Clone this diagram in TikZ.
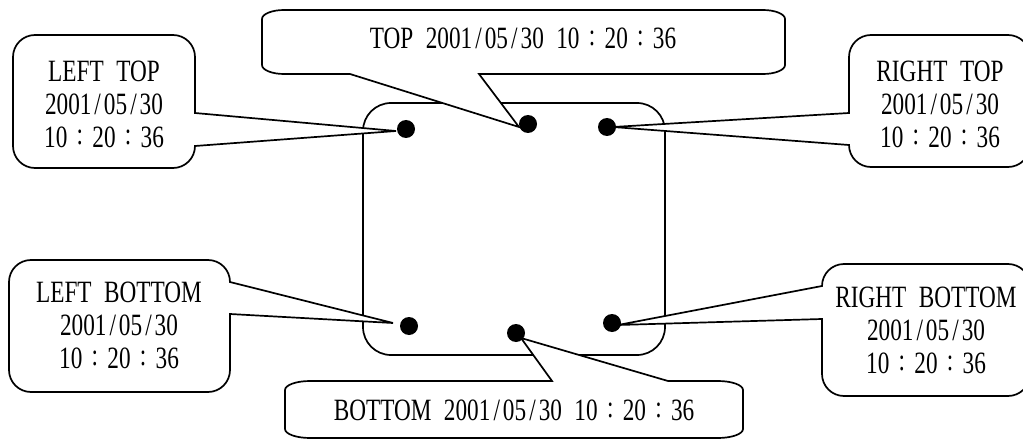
\documentclass[tikz,border=0pt]{standalone}
\usepackage{fontspec}
\setmainfont{Liberation Serif}[FakeStretch=0.75]
\newcommand\fwc{\makebox[25pt]{\raisebox{3pt}{:}}}
\newcommand\slsh{\makebox[12.5pt]{/}}
\newcommand\gap{\hspace{12.5pt}}
\newcommand\dte{2001\slsh 05\slsh 30}
\newcommand\tme{10\fwc 20\fwc 36}
\tikzset{
  callout/.style={draw=black, fill=white, line width=1.7pt, line join=miter},
  mainbox/.style={draw=black, line width=1.7pt, rounded corners=28pt, minimum width=302pt, minimum height=252pt, inner sep=0pt},
  dotnode/.style={circle, fill=black, draw=none, inner sep=0pt, minimum size=18pt},
  txt/.style={font=\fontsize{31}{33}\selectfont, align=center, inner sep=0pt}
}
\begin{document}
\begin{tikzpicture}[x=1pt,y=-1pt]
\useasboundingbox (0,0) rectangle (1023,441);
\clip (0,0) rectangle (1023,441);
% main device box
\node[mainbox] (dev) at (514,229) {};
% tips of callouts
\coordinate (tLT) at (396,131);
\coordinate (tT)  at (519,127);
\coordinate (tRT) at (613,127);
\coordinate (tLB) at (393,323);
\coordinate (tB)  at (521,338);
\coordinate (tRB) at (618,325);
% LEFT TOP callout
\draw[callout] (35,35) -- (173,35) arc[start angle=-90,end angle=0,radius=22]
  -- (195,113) -- (tLT) -- (195,146) arc[start angle=0,end angle=90,radius=22]
  -- (35,168) arc[start angle=90,end angle=180,radius=22]
  -- (13,57) arc[start angle=180,end angle=270,radius=22] -- cycle;
% TOP callout
\draw[callout] (284,10) -- (763,10) arc[start angle=-90,end angle=0,x radius=22,y radius=9]
  -- (785,65) arc[start angle=0,end angle=90,x radius=22,y radius=9]
  -- (479,74) -- (tT) -- (350,74) -- (284,74) arc[start angle=90,end angle=180,x radius=22,y radius=9]
  -- (262,19) arc[start angle=180,end angle=270,x radius=22,y radius=9] -- cycle;
% RIGHT TOP callout
\draw[callout] (871,35) -- (1008,35) arc[start angle=-90,end angle=0,radius=22]
  -- (1030,145) arc[start angle=0,end angle=90,radius=22]
  -- (871,167) arc[start angle=90,end angle=180,radius=22]
  -- (tRT) -- (849,113) -- (849,57) arc[start angle=180,end angle=270,radius=22] -- cycle;
% LEFT BOTTOM callout
\draw[callout] (31,260) -- (208,260) arc[start angle=-90,end angle=0,radius=22]
  -- (tLB) -- (230,314) -- (230,370) arc[start angle=0,end angle=90,radius=22]
  -- (31,392) arc[start angle=90,end angle=180,radius=22]
  -- (9,282) arc[start angle=180,end angle=270,radius=22] -- cycle;
% RIGHT BOTTOM callout
\draw[callout] (844,264) -- (1008,264) arc[start angle=-90,end angle=0,radius=22]
  -- (1030,374) arc[start angle=0,end angle=90,radius=22]
  -- (844,396) arc[start angle=90,end angle=180,radius=22]
  -- (822,319) -- (tRB) -- (822,286) arc[start angle=180,end angle=270,radius=22] -- cycle;
% BOTTOM callout
\draw[callout] (310,381) -- (552,381) -- (tB) -- (668,381)
  -- (718,381) arc[start angle=-90,end angle=0,x radius=25,y radius=9]
  -- (743,429) arc[start angle=0,end angle=90,x radius=25,y radius=9]
  -- (310,438) arc[start angle=90,end angle=180,x radius=25,y radius=9]
  -- (285,390) arc[start angle=180,end angle=270,x radius=25,y radius=9] -- cycle;
% dots
\node[dotnode] (dLT) at (406,129) {};
\node[dotnode] (dT)  at (528,124) {};
\node[dotnode] (dRT) at (607,127) {};
\node[dotnode] (dLB) at (409,326) {};
\node[dotnode] (dB)  at (516,333) {};
\node[dotnode] (dRB) at (612,323) {};
% texts
\node[txt] (lLT) at (104,104) {LEFT\gap TOP\\\dte\\\tme};
\node[txt, anchor=base] (lT) at (523,49) {TOP\gap\dte\gap\tme};
\node[txt] (lRT) at (940,104) {RIGHT\gap TOP\\\dte\\\tme};
\node[txt] (lLB) at (119,325) {LEFT\gap BOTTOM\\\dte\\\tme};
\node[txt] (lRB) at (926,330) {RIGHT\gap BOTTOM\\\dte\\\tme};
\node[txt, anchor=base] (lB) at (514,420) {BOTTOM\gap\dte\gap\tme};
\end{tikzpicture}
\end{document}
